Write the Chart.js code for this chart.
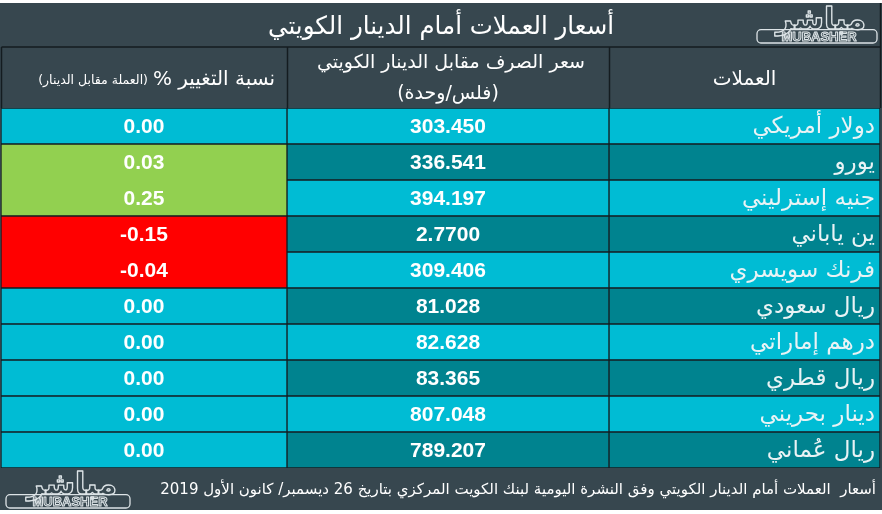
<!DOCTYPE html>
<html lang="ar">
<head>
<meta charset="utf-8">
<title>أسعار العملات أمام الدينار الكويتي</title>
<script src="https://cdn.jsdelivr.net/npm/chart.js@4.4.1/dist/chart.umd.min.js"></script>
<style>
  html, body { margin: 0; padding: 0; background: #fff; }
  canvas { display: block; }
</style>
</head>
<body>
<canvas id="table" width="882" height="514"></canvas>
<script>
// table content
const currencies = ["دولار أمريكي", "يورو", "جنيه إسترليني", "ين ياباني", "فرنك سويسري",
  "ريال سعودي", "درهم إماراتي", "ريال قطري", "دينار بحريني", "ريال عُماني"];
const rates = ["303.450", "336.541", "394.197", "2.7700", "309.406",
  "81.028", "82.628", "83.365", "807.048", "789.207"];
const changes = [0.00, 0.03, 0.25, -0.15, -0.04, 0.00, 0.00, 0.00, 0.00, 0.00];

const titleText = "أسعار العملات أمام الدينار الكويتي";
const headCurrency = "العملات";
const headRate = ["سعر الصرف مقابل الدينار الكويتي", "(فلس/وحدة)"];
const headChange = ["نسبة التغيير %", "(العملة مقابل الدينار)"];
const footerText = "أسعار  العملات أمام الدينار الكويتي وفق النشرة اليومية لبنك الكويت المركزي بتاريخ 26 ديسمبر/ كانون الأول 2019";

// layout (pixels)
const colEdges = [1, 287, 609, 880];   // change | rate | currency
const TITLE_TOP = 3, HEAD_TOP = 47, BODY_TOP = 108, BODY_BOTTOM = 468, FOOT_BOTTOM = 510;

const C = {
  slate: "#37474f",
  light: "#00bcd4",
  dark: "#00838f",
  green: "#92d050",
  red: "#ff0000",
  line: "#141c20",
  text: "#ffffff",
  soft: "#e9f3f5",
  logo: "#dde4e7"
};

const AR = "'DejaVu Sans', sans-serif";
const NUM = "bold 21px 'Liberation Sans', Arial, sans-serif";

const sign = v => (v > 0 ? 1 : v < 0 ? -1 : 0);
const changeColor = v => (v > 0 ? C.green : v < 0 ? C.red : C.light);
const stripe = i => (i % 2 === 0 ? C.light : C.dark);

// merged change cells (same non-zero direction in neighbouring rows)
const mergedUp = i => i > 0 && sign(changes[i]) !== 0 && sign(changes[i]) === sign(changes[i - 1]);
const mergedDown = i => i < changes.length - 1 && sign(changes[i]) !== 0 && sign(changes[i]) === sign(changes[i + 1]);

const cellRange = k => currencies.map(() => [colEdges[k], colEdges[k + 1]]);

function drawLogo(ctx, x, y, w, h) {
  ctx.save();
  ctx.strokeStyle = C.logo;
  ctx.lineWidth = 1.3;
  ctx.lineJoin = "round";
  // arabic mark, outlined
  ctx.font = "bold " + Math.round(h * 0.8) + "px " + AR;
  ctx.textAlign = "center";
  ctx.textBaseline = "alphabetic";
  ctx.direction = "rtl";
  ctx.strokeText("مباشر", x + w / 2 + 4, y + h * 0.62, w - 10);
  // latin box
  const by = y + h * 0.64, bh = h * 0.36;
  ctx.beginPath();
  ctx.roundRect(x, by, w, bh, 4);
  ctx.stroke();
  ctx.direction = "ltr";
  ctx.font = "bold " + Math.round(bh * 1.0) + "px 'Liberation Sans', sans-serif";
  ctx.textBaseline = "middle";
  ctx.lineWidth = 1;
  ctx.strokeText("MUBASHER", x + w / 2 + 2, by + bh / 2 + 1, w - 12);
  ctx.restore();
}

const tablePlugin = {
  id: "tableFrame",
  beforeDraw(chart) {
    const { ctx, width, height } = chart;
    const x = chart.scales.x;
    const px = e => Math.round(x.getPixelForValue(e)) + 0.5;
    const mid = k => (x.getPixelForValue(colEdges[k]) + x.getPixelForValue(colEdges[k + 1])) / 2;

    ctx.save();
    ctx.fillStyle = "#ffffff";
    ctx.fillRect(0, 0, width, height);
    ctx.fillStyle = C.slate;
    ctx.fillRect(0, TITLE_TOP, width, FOOT_BOTTOM - TITLE_TOP);

    // header grid
    ctx.strokeStyle = C.line;
    ctx.lineWidth = 1.5;
    ctx.beginPath();
    ctx.moveTo(px(colEdges[0]), HEAD_TOP);
    ctx.lineTo(px(colEdges[3]), HEAD_TOP);
    colEdges.forEach(e => {
      ctx.moveTo(px(e), HEAD_TOP);
      ctx.lineTo(px(e), BODY_TOP);
    });
    ctx.moveTo(px(colEdges[3]), TITLE_TOP);
    ctx.lineTo(px(colEdges[3]), HEAD_TOP);
    ctx.stroke();

    // title
    ctx.fillStyle = C.text;
    ctx.direction = "rtl";
    ctx.textAlign = "center";
    ctx.textBaseline = "middle";
    ctx.font = "25px " + AR;
    ctx.fillText(titleText, width / 2, (TITLE_TOP + HEAD_TOP) / 2 + 2, 346);

    // header cells
    const hMid = (HEAD_TOP + BODY_TOP) / 2;
    ctx.font = "20px " + AR;
    ctx.fillText(headCurrency, mid(2), hMid + 2);
    ctx.font = "19px " + AR;
    ctx.fillText(headRate[0], mid(1) + 3, hMid - 14, 282);
    ctx.fillText(headRate[1], mid(1), hMid + 17);

    ctx.textAlign = "right";
    ctx.font = "20px " + AR;
    const rightEdge = x.getPixelForValue(colEdges[1]) - 12;
    ctx.fillText(headChange[0], rightEdge, hMid + 2, 122);
    const w0 = Math.min(ctx.measureText(headChange[0]).width, 122);
    ctx.font = "12.5px " + AR;
    ctx.fillText(headChange[1], rightEdge - w0 - 5, hMid + 3, 130);

    // footer
    ctx.textAlign = "right";
    ctx.font = "15px " + AR;
    ctx.fillText(footerText, width - 6, (BODY_BOTTOM + FOOT_BOTTOM) / 2 + 1, 728);

    drawLogo(ctx, 757, 6, 120, 37);
    drawLogo(ctx, 6, 471, 124, 37);
    ctx.restore();
  },
  afterDatasetsDraw(chart) {
    const { ctx } = chart;
    ctx.save();
    ctx.textBaseline = "middle";
    const metaChange = chart.getDatasetMeta(0);
    const metaRate = chart.getDatasetMeta(1);
    const metaName = chart.getDatasetMeta(2);
    currencies.forEach((name, i) => {
      ctx.fillStyle = C.text;
      ctx.direction = "ltr";
      ctx.textAlign = "center";
      ctx.font = NUM;
      const a = metaChange.data[i].getCenterPoint();
      ctx.fillText(changes[i].toFixed(2), a.x, a.y + 1);
      const b = metaRate.data[i].getCenterPoint();
      ctx.fillText(rates[i], b.x, b.y + 1);
      const c = metaName.data[i];
      ctx.fillStyle = C.soft;
      ctx.direction = "rtl";
      ctx.textAlign = "right";
      ctx.font = "23px " + AR;
      ctx.fillText(name, Math.max(c.x, c.base) - 5, c.y + 1);
    });
    ctx.restore();
  }
};

const border = (i, merged) => ({
  top: merged && mergedUp(i) ? 0 : 1,
  bottom: merged && mergedDown(i) ? 0 : 1,
  left: 1,
  right: 1
});

new Chart(document.getElementById("table"), {
  type: "bar",
  data: {
    labels: currencies,
    datasets: [
      {
        label: "نسبة التغيير %",
        data: cellRange(0),
        backgroundColor: changes.map(changeColor),
        borderWidth: ctx => border(ctx.dataIndex, true)
      },
      {
        label: "سعر الصرف",
        data: cellRange(1),
        backgroundColor: rates.map((r, i) => stripe(i)),
        borderWidth: ctx => border(ctx.dataIndex, false)
      },
      {
        label: "العملات",
        data: cellRange(2),
        backgroundColor: currencies.map((n, i) => stripe(i)),
        borderWidth: ctx => border(ctx.dataIndex, false)
      }
    ]
  },
  options: {
    indexAxis: "y",
    responsive: false,
    animation: false,
    events: [],
    layout: { padding: { top: BODY_TOP, bottom: 514 - BODY_BOTTOM, left: 0, right: 0 } },
    datasets: {
      bar: {
        stack: "row",
        barPercentage: 1,
        categoryPercentage: 1,
        borderColor: C.line,
        borderSkipped: false
      }
    },
    scales: {
      x: { type: "linear", min: 0, max: 882, display: false, stacked: false },
      y: { type: "category", display: false, stacked: true }
    },
    plugins: {
      legend: { display: false },
      tooltip: { enabled: false },
      title: { display: false }
    }
  },
  plugins: [tablePlugin]
});
</script>
</body>
</html>
